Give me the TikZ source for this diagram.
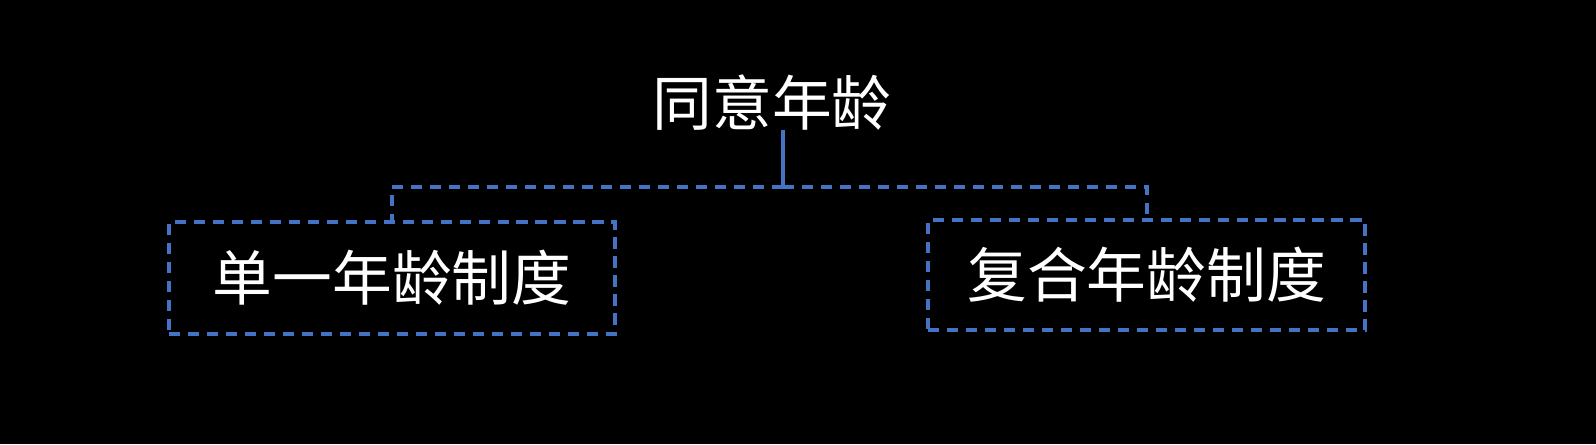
\documentclass[tikz,border=0pt]{standalone}
\usepackage{fontspec}
\newfontfamily\cjk{Noto Sans CJK SC}
\usetikzlibrary{positioning}
\definecolor{lineblue}{HTML}{4472C4}
\tikzset{
  label/.style={text=white, font=\cjk\fontsize{17}{19}\selectfont, inner sep=0},
  dbox/.style={draw=lineblue, dashed, line width=0.9pt, dash pattern=on 3.2pt off 2.2pt},
  link/.style={draw=lineblue, line width=0.9pt}
}
\begin{document}
\begin{tikzpicture}
\fill[black] (0,0) rectangle (15.96,4.44);
\useasboundingbox (0,0) rectangle (15.96,4.44);

% Nodes
\node[label] (top) at (7.72,3.41) {同意年龄};
\node[dbox, minimum width=4.46cm, minimum height=1.12cm] (single) at (3.92,1.66) {};
\node[label] at (single.center) {单一年龄制度};
\node[dbox, minimum width=4.37cm, minimum height=1.10cm] (multi) at (11.465,1.69) {};
\node[label] at (multi.center) {复合年龄制度};
\coordinate (split) at (7.83,2.57);

% Edges
\draw[link] (7.83,3.14) -- (split);
\draw[link, dashed, dash pattern=on 3.2pt off 2.2pt] (split) -| (3.92,2.22);
\draw[link, dashed, dash pattern=on 3.2pt off 2.2pt] (split) -| (11.47,2.24);
\end{tikzpicture}
\end{document}
